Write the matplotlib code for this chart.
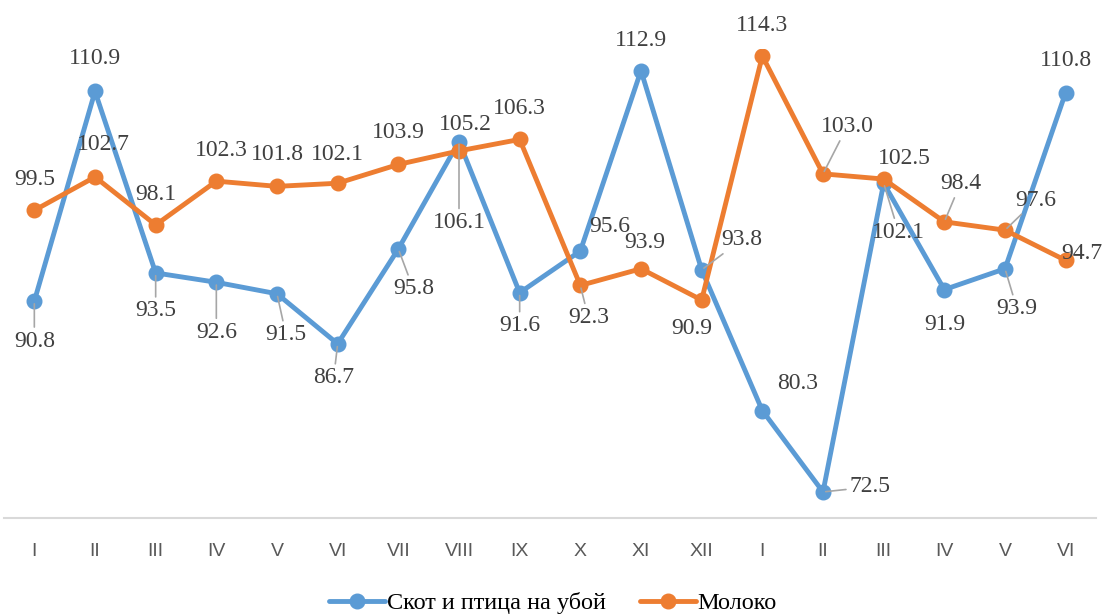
import matplotlib
matplotlib.use("Agg")
import matplotlib.pyplot as plt

categories = ["I", "II", "III", "IV", "V", "VI", "VII", "VIII", "IX", "X", "XI", "XII",
              "I", "II", "III", "IV", "V", "VI"]
livestock = [90.8, 110.9, 93.5, 92.6, 91.5, 86.7, 95.8, 106.1, 91.6, 95.6, 112.9, 93.8,
             80.3, 72.5, 102.1, 91.9, 93.9, 110.8]
milk = [99.5, 102.7, 98.1, 102.3, 101.8, 102.1, 103.9, 105.2, 106.3, 92.3, 93.9, 90.9,
        114.3, 103.0, 102.5, 98.4, 97.6, 94.7]
series_names = ["Скот и птица на убой", "Молоко"]

# label offsets in pixels (dx, dy with dy downward) and leader-line flags
blue_off = [(0, 40), (0, -33), (0, 38), (0, 50), (9, 41), (-4, 34), (15, 40), (0, 81),
            (0, 33), (29, -25), (0, -30), (40, -30), (35, -27), (47, -5), (15, 49),
            (0, 35), (12, 40), (0, -32)]
blue_lead = [1, 0, 1, 1, 1, 1, 1, 1, 1, 0, 0, 1, 0, 1, 1, 0, 1, 0]
orange_off = [(0, -31), (8, -32), (0, -30), (5, -31), (0, -32), (0, -29), (0, -32), (6, -26),
              (0, -31), (8, 32), (4, -26), (-10, 28), (0, -31), (24, -47), (21, -21),
              (16, -38), (31, -30), (16, -7)]
orange_lead = [0, 0, 0, 0, 0, 0, 0, 0, 0, 1, 0, 0, 0, 1, 0, 1, 1, 0]

BLUE = "#5B9BD5"
ORANGE = "#ED7D31"
W, H = 1106, 614

fig = plt.figure(figsize=(W / 100, H / 100), dpi=100)
ax = fig.add_axes([4 / W, (H - 518) / H, 1092 / W, 469.3 / H])
x = list(range(len(categories)))

ax.plot(x, livestock, color=BLUE, lw=3.5, marker="o", ms=10.5, label=series_names[0],
        solid_capstyle="round", zorder=3)
ax.plot(x, milk, color=ORANGE, lw=3.5, marker="o", ms=10.5, label=series_names[1],
        solid_capstyle="round", zorder=4)

ax.set_xlim(-0.5, len(categories) - 0.5)
ax.set_ylim(70, 115)

def label(vals, offs, leads):
    for i, (v, (dx, dy), ld) in enumerate(zip(vals, offs, leads)):
        kw = {}
        if ld:
            kw["arrowprops"] = dict(arrowstyle="-", color="#A6A6A6", lw=1.2,
                                    shrinkA=0, shrinkB=2)
        ax.annotate(f"{v:.1f}", xy=(i, v), xytext=(dx, -dy), textcoords="offset pixels",
                    ha="center", va="center", fontsize=17, family="Liberation Serif",
                    color="#404040", annotation_clip=False, zorder=6,
                    bbox=dict(boxstyle="square,pad=0.15", fc="none", ec="none"), **kw)

label(livestock, blue_off, blue_lead)
label(milk, orange_off, orange_lead)

for s in ["top", "left", "right"]:
    ax.spines[s].set_visible(False)
ax.spines["bottom"].set_color("#D9D9D9")
ax.spines["bottom"].set_linewidth(1.5)
ax.set_yticks([])
ax.set_xticks(x)
ax.set_xticklabels(categories, fontsize=14, family="Liberation Sans", color="#595959")
ax.tick_params(axis="x", length=0, pad=18)

fig.legend(loc="center", bbox_to_anchor=(0.5, 1 - 603 / H), ncol=2, frameon=False,
           prop=dict(family="Liberation Serif", size=17.5), handlelength=2.3,
           handletextpad=0.08, columnspacing=1.4, borderaxespad=0)

fig.savefig("out.png", dpi=100)
